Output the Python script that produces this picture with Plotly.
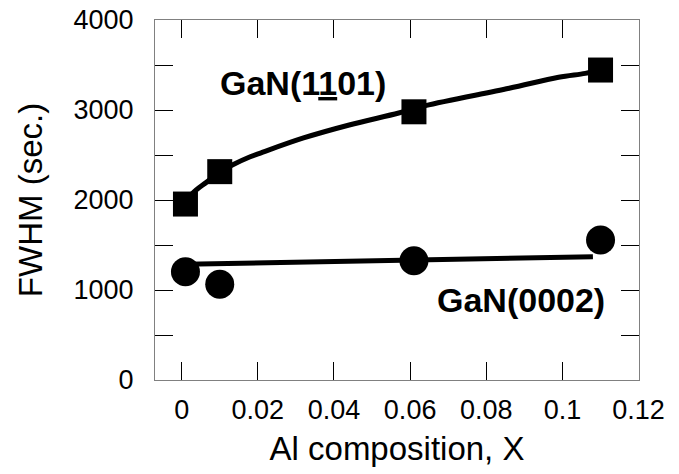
import plotly.graph_objects as go

# Measured data
x_pts = [0.001, 0.010, 0.061, 0.110]
fwhm_1101 = [1955, 2315, 2980, 3444]
fwhm_0002 = [1203, 1063, 1326, 1555]

# Fit curve for GaN(1-101)
fit1_x = [0.001, 0.003, 0.0066, 0.010, 0.0133, 0.018, 0.0205, 0.032, 0.044, 0.057, 0.064, 0.086, 0.099, 0.106, 0.110]
fit1_y = [1975, 2081, 2200, 2310, 2389, 2481, 2519, 2689, 2833, 2967, 3048, 3241, 3363, 3407, 3444]

# Fit line for GaN(0002)
fit2_x = [0.001, 0.108]
fit2_y = [1285, 1370]

x_ticks = [0, 0.02, 0.04, 0.06, 0.08, 0.1, 0.12]
x_tick_labels = ["0", "0.02", "0.04", "0.06", "0.08", "0.1", "0.12"]
y_ticks = [0, 1000, 2000, 3000, 4000]

FONT = "Liberation Sans, Arial, sans-serif"

fig = go.Figure()
fig.add_trace(go.Scatter(x=fit1_x, y=fit1_y, mode="lines", line=dict(color="black", width=5, shape="spline"),
                         showlegend=False, hoverinfo="skip"))
fig.add_trace(go.Scatter(x=fit2_x, y=fit2_y, mode="lines", line=dict(color="black", width=5),
                         showlegend=False, hoverinfo="skip"))
fig.add_trace(go.Scatter(x=x_pts, y=fwhm_1101, mode="markers",
                         marker=dict(symbol="square", size=25, color="black"), showlegend=False))
fig.add_trace(go.Scatter(x=x_pts, y=fwhm_0002, mode="markers",
                         marker=dict(symbol="circle", size=29, color="black"), showlegend=False))

fig.add_annotation(x=0.0318, y=3300, xref="x", yref="y", text="<b>GaN(1<u>1</u>01)</b>",
                   showarrow=False, font=dict(family=FONT, size=34, color="black"))
fig.add_annotation(x=0.0891, y=889, xref="x", yref="y", text="<b>GaN(0002)</b>",
                   showarrow=False, font=dict(family=FONT, size=34, color="black"))

axis_common = dict(showgrid=False, zeroline=False, showline=True, linecolor="#808080", linewidth=1,
                   mirror="ticks", ticks="inside", ticklen=18, tickcolor="black", tickwidth=1,
                   automargin=False, ticklabeloverflow="allow",
                   tickfont=dict(family=FONT, size=27, color="black"))

fig.update_xaxes(range=[-0.007, 0.1201], tickvals=x_ticks, ticktext=x_tick_labels,
                 ticklabelstandoff=6,
                 title=dict(text="Al composition, X", font=dict(family=FONT, size=33, color="black"), standoff=12),
                 **axis_common)
fig.update_yaxes(range=[0, 4000], tickvals=y_ticks, ticklabelstandoff=15,
                 minor=dict(dtick=500, ticks="inside", ticklen=18, tickcolor="black", tickwidth=1),
                 title=dict(text="FWHM (sec.)", font=dict(family=FONT, size=33, color="black"), standoff=20),
                 **axis_common)

fig.update_layout(width=679, height=474, margin=dict(l=155, r=40, t=20, b=94),
                  plot_bgcolor="white", paper_bgcolor="white")

# Remove the default page margin so the figure sits at the window's corner
fig.write_html("out.html", config={"displayModeBar": False},
               post_script="document.body.style.margin='0';")
